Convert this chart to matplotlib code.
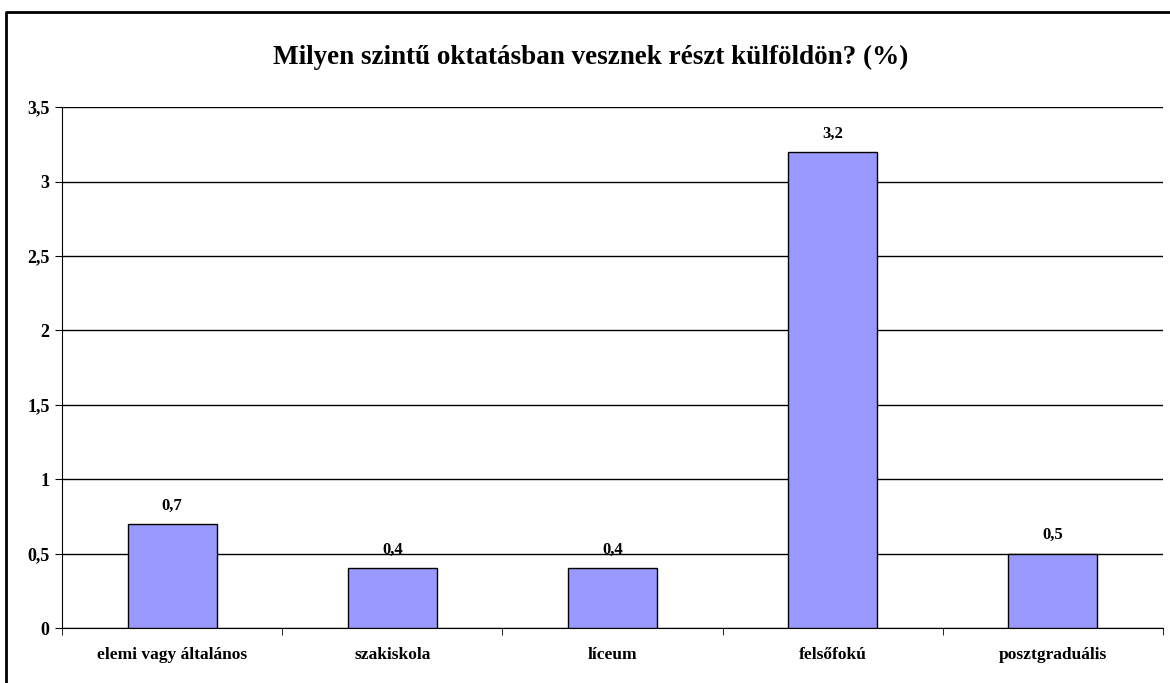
import matplotlib.pyplot as plt
from matplotlib.lines import Line2D

categories = ["elemi vagy általános", "szakiskola", "líceum", "felsőfokú", "posztgraduális"]
values = [0.7, 0.4, 0.4, 3.2, 0.5]
yticks = [0, 0.5, 1, 1.5, 2, 2.5, 3, 3.5]

plt.rcParams['font.family'] = ['Liberation Serif', 'DejaVu Serif']

fig = plt.figure(figsize=(11.7, 6.83), dpi=100)
ax = fig.add_axes([0.053, 0.0805, 0.941, 0.7625])

x = range(len(categories))
ax.bar(x, values, width=0.405, color='#9999FF', edgecolor='black', linewidth=1, zorder=3)

for xi, v in zip(x, values):
    ax.text(xi, v + 0.07, ("%.1f" % v).replace(".", ","), ha='center', va='bottom',
            fontsize=12, fontweight='bold')

ax.set_xlim(-0.5, len(categories) - 0.5)
ax.set_ylim(0, 3.5)
ax.set_yticks(yticks)
ax.set_yticklabels([("%g" % t).replace(".", ",") for t in yticks], fontsize=13, fontweight='bold')
ax.set_xticks(list(x))
ax.set_xticklabels(categories, fontsize=12.5, fontweight='bold')
ax.set_xticks([i - 0.5 for i in range(len(categories) + 1)], minor=True)
ax.tick_params(axis='x', which='major', length=0, pad=14)
ax.tick_params(axis='x', which='minor', length=5, direction='out')
ax.tick_params(axis='y', length=5, direction='out', pad=4)

ax.grid(axis='y', color='black', linewidth=1, zorder=0)
ax.spines['top'].set_visible(False)
ax.spines['right'].set_visible(False)

fig.text(0.505, 0.916, "Milyen szintű oktatásban vesznek részt külföldön? (%)",
         ha='center', va='center', fontsize=19.5, fontweight='bold')

# outer frame (only left and top edges visible)
fig.add_artist(Line2D([0.0055, 0.0055, 1.0], [0.0, 0.9824, 0.9824], transform=fig.transFigure,
                      color='black', linewidth=2))

plt.savefig('out.png', dpi=100)
